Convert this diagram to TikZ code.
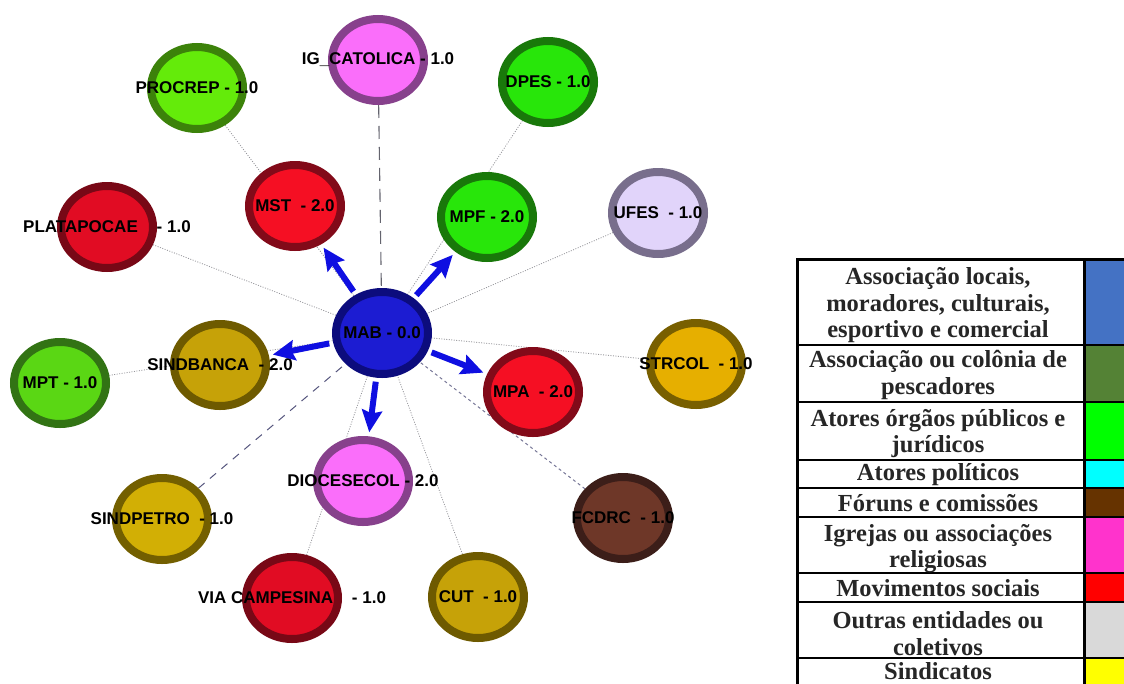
\documentclass[tikz,border=0pt]{standalone}
\usepackage{fontspec}
\setmainfont{Liberation Serif}
\setsansfont{Liberation Sans}
\usetikzlibrary{shapes.geometric,arrows.meta,backgrounds}

\definecolor{mabF}{RGB}{28,28,210}
\definecolor{mabD}{RGB}{12,12,125}
\definecolor{redF}{RGB}{245,15,35}
\definecolor{redD}{RGB}{130,10,25}
\definecolor{crimF}{RGB}{225,12,35}
\definecolor{crimD}{RGB}{120,8,22}
\definecolor{grnF}{RGB}{40,230,10}
\definecolor{grnD}{RGB}{25,120,10}
\definecolor{limeF}{RGB}{100,235,10}
\definecolor{limeD}{RGB}{60,130,10}
\definecolor{mptF}{RGB}{90,215,20}
\definecolor{mptD}{RGB}{50,115,20}
\definecolor{pinkF}{RGB}{250,110,250}
\definecolor{pinkD}{RGB}{135,65,140}
\definecolor{lilaF}{RGB}{225,212,250}
\definecolor{lilaD}{RGB}{120,110,140}
\definecolor{goldF}{RGB}{230,175,0}
\definecolor{goldD}{RGB}{120,95,0}
\definecolor{oliveF}{RGB}{198,162,8}
\definecolor{oliveD}{RGB}{110,90,0}
\definecolor{ochreF}{RGB}{210,175,5}
\definecolor{ochreD}{RGB}{115,95,0}
\definecolor{brownF}{RGB}{110,55,40}
\definecolor{brownD}{RGB}{60,30,25}
\definecolor{arrB}{RGB}{15,15,225}
\definecolor{tieG}{RGB}{150,150,155}
\definecolor{dashG}{RGB}{100,100,110}
\definecolor{slateG}{RGB}{85,85,125}
\definecolor{legBlue}{RGB}{68,114,196}
\definecolor{legFish}{RGB}{84,130,53}
\definecolor{legGreen}{RGB}{0,255,0}
\definecolor{legCyan}{RGB}{0,255,255}
\definecolor{legBrown}{RGB}{102,51,0}
\definecolor{legPink}{RGB}{255,51,204}
\definecolor{legRed}{RGB}{255,0,0}
\definecolor{legGray}{RGB}{217,217,217}
\definecolor{legYellow}{RGB}{255,255,0}

\begin{document}
\begin{tikzpicture}
  [x=1pt,y=-1pt,
   actorN/.style={ellipse,draw,line width=8pt,minimum width=92pt,minimum height=82pt,inner sep=0pt},
   every label/.style={font=\sffamily\bfseries\fontsize{17}{19}\selectfont,text=black,inner sep=0pt},
   tieE/.style={draw=tieG,line width=0.8pt,dash pattern=on 1pt off 1.5pt},
   longE/.style={draw=dashG,line width=1.1pt,dash pattern=on 13pt off 8pt},
   midE/.style={draw=slateG,line width=1pt,dash pattern=on 8pt off 7pt},
   shortE/.style={draw=slateG!80,line width=1pt,dash pattern=on 3pt off 3pt},
   arrE/.style={draw=arrB,line width=6pt,-{Stealth[length=22pt,width=20pt,inset=3pt]},shorten <=4pt,shorten >=4pt},
   legT/.style={font=\bfseries\fontsize{24.5}{26.5}\selectfont,align=center,text=black!85,inner sep=0pt},
   gridL/.style={line width=3pt},
   rowL/.style={line width=2.5pt}]

  \useasboundingbox (0,0) rectangle (1124,683);
  \clip (0,0) rectangle (1124,683);

  \node[actorN,fill=mabF,draw=mabD,label={center:MAB - 0.0}] (mab) at (382,333) {};

  \node[actorN,fill=redF,draw=redD,label={center:MST~~- 2.0}] (mst) at (295,206) {};
  \node[actorN,fill=grnF,draw=grnD,label={center:MPF - 2.0}] (mpf) at (487,217) {};
  \node[actorN,fill=redF,draw=redD,label={center:MPA~~- 2.0}] (mpa) at (533,392) {};
  \node[actorN,fill=pinkF,draw=pinkD,label={center:DIOCESECOL - 2.0}] (dioc) at (363,481) {};
  \node[actorN,fill=oliveF,draw=oliveD,label={center:SINDBANCA~~- 2.0}] (sindbanca) at (220,365) {};

  \node[actorN,fill=pinkF,draw=pinkD,label={center:IG\_CATOLICA - 1.0}] (igc) at (378,60) {};
  \node[actorN,fill=limeF,draw=limeD,label={center:PROCREP - 1.0}] (procrep) at (197,88) {};
  \node[actorN,fill=grnF,draw=grnD,label={center:DPES - 1.0}] (dpes) at (548,82) {};
  \node[actorN,fill=lilaF,draw=lilaD,label={center:UFES~~- 1.0}] (ufes) at (658,213) {};
  \node[actorN,fill=crimF,draw=crimD,label={center:PLATAPOCAE~~~~- 1.0}] (plat) at (107,227) {};
  \node[actorN,fill=mptF,draw=mptD,label={center:MPT - 1.0}] (mpt) at (60,383) {};
  \node[actorN,fill=goldF,draw=goldD,label={center:STRCOL~~- 1.0}] (strcol) at (696,364) {};
  \node[actorN,fill=ochreF,draw=ochreD,label={center:SINDPETRO~~- 1.0}] (sindpetro) at (162,519) {};
  \node[actorN,fill=brownF,draw=brownD,label={center:FCDRC~~- 1.0}] (fcdrc) at (623,518) {};
  \node[actorN,fill=crimF,draw=crimD,label={center:VIA CAMPESINA~~~~- 1.0}] (via) at (292,598) {};
  \node[actorN,fill=oliveF,draw=oliveD,label={center:CUT~~- 1.0}] (cut) at (478,597) {};

  \begin{scope}[on background layer]
    \draw [longE] (igc) -- (mab);
    \draw [tieE] (procrep) -- (mab);
    \draw [tieE] (dpes) -- (mab);
    \draw [tieE] (ufes) -- (mab);
    \draw [tieE] (plat) -- (mab);
    \draw [tieE] (mpt) -- (mab);
    \draw [tieE] (strcol) -- (mab);
    \draw [midE] (sindpetro) -- (mab);
    \draw [tieE] (via) -- (mab);
    \draw [tieE] (cut) -- (mab);
    \draw [shortE] (fcdrc) -- (mab);
  \end{scope}

  \draw [arrE] (mab) -- (mst);
  \draw [arrE] (mab) -- (mpf);
  \draw [arrE] (mab) -- (sindbanca);
  \draw [arrE] (mab) -- (mpa);
  \draw [arrE] (mab) -- (dioc);

  \fill [legBlue]   (1084,259) rectangle (1130,345);
  \fill [legFish]   (1084,345) rectangle (1130,402);
  \fill [legGreen]  (1084,402) rectangle (1130,460);
  \fill [legCyan]   (1084,460) rectangle (1130,488);
  \fill [legBrown]  (1084,488) rectangle (1130,517);
  \fill [legPink]   (1084,517) rectangle (1130,573);
  \fill [legRed]    (1084,573) rectangle (1130,602);
  \fill [legGray]   (1084,602) rectangle (1130,658);
  \fill [legYellow] (1084,658) rectangle (1130,690);

  \draw [gridL] (796,259) -- (1130,259);
  \draw [gridL] (797,259) -- (797,690);
  \draw [gridL] (1084,259) -- (1084,690);
  \draw [rowL] (797,345) -- (1130,345);
  \draw [rowL] (797,402) -- (1130,402);
  \draw [rowL] (797,460) -- (1130,460);
  \draw [rowL] (797,488) -- (1130,488);
  \draw [rowL] (797,517) -- (1130,517);
  \draw [rowL] (797,573) -- (1130,573);
  \draw [rowL] (797,602) -- (1130,602);
  \draw [rowL] (797,658) -- (1130,658);

  \node [legT] (txtLocais)  at (938,305.5) {Associação locais,\\moradores, culturais,\\esportivo e comercial};
  \node [legT] (txtPesca)   at (938,375)   {Associação ou colônia de\\pescadores};
  \node [legT] (txtOrgaos)  at (938,433.5) {Atores órgãos públicos e\\jurídicos};
  \node [legT] (txtPolit)   at (938,475)   {Atores políticos};
  \node [legT] (txtForuns)  at (938,503)   {Fóruns e comissões};
  \node [legT] (txtIgrejas) at (938,548.5) {Igrejas ou associações\\religiosas};
  \node [legT] (txtMovim)   at (938,588)   {Movimentos sociais};
  \node [legT] (txtOutras)  at (938,633.5) {Outras entidades ou\\coletivos};
  \node [legT] (txtSind)    at (938,671)   {Sindicatos};
\end{tikzpicture}
\end{document}
